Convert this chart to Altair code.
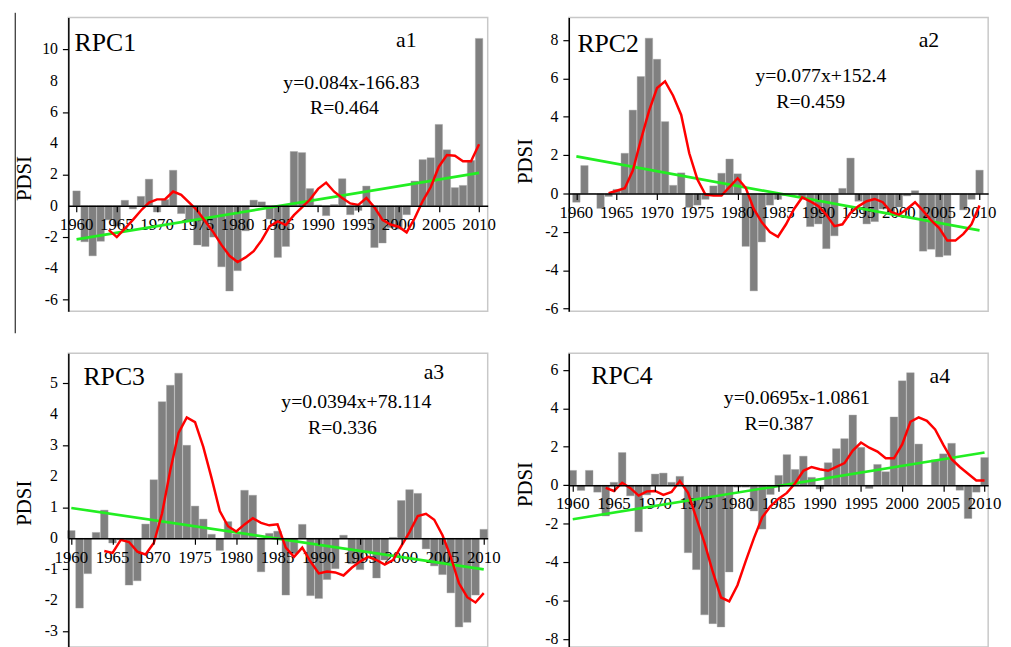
import altair as alt
import pandas as pd

FONT = "Liberation Serif"

years = list(range(1960, 2011))
ma_years = list(range(1964, 2011))
trend_years = [1960, 2010]
x_ticks = [1960, 1965, 1970, 1975, 1980, 1985, 1990, 1995, 2000, 2005, 2010]

rpc1 = [0.95, -2.3, -3.2, -2.27, -0.9, -1.3, 0.35, -0.2, 0.6, 1.7,
        -0.4, 0.4, 2.27, -0.5, -1.0, -2.5, -2.6, -2.0, -3.9, -5.45,
        -4.15, -1.6, 0.36, 0.25, -0.85, -3.3, -2.6, 3.47, 3.4, 1.1,
        0.05, -0.63, 0.08, 1.73, -0.57, -0.3, 1.26, -2.67, -2.38, -1.4,
        -1.5, -0.57, 1.58, 2.95, 3.07, 5.2, 3.58, 1.16, 1.3, 2.9, 10.7]
rpc2 = [-0.45, 1.46, 0.0, -0.77, -0.15, 0.22, 2.1, 4.35, 6.1, 8.1,
        7.0, 3.75, 0.43, 1.08, -0.72, -0.6, -0.3, 0.4, 1.06, 1.8,
        1.03, -2.75, -5.07, -2.52, -0.6, -0.3, -0.1, 0.0, -0.2, -1.72,
        -1.58, -2.87, -2.2, 0.27, 1.85, -0.4, -1.58, -1.46, -0.8, -1.0,
        -0.7, -0.12, 0.15, -3.0, -2.9, -3.3, -3.22, -0.05, -0.85, -0.3, 1.22]
rpc3 = [0.25, -2.25, -1.14, 0.19, 0.91, -0.15, -0.05, -1.51, -1.37, 0.46,
        1.89, 4.41, 4.94, 5.33, 3.0, 1.04, 0.62, 0.13, -0.39, 0.54,
        0.14, 1.55, 1.39, -1.08, 0.16, 0.23, -1.83, -0.5, 0.45, -1.85,
        -1.94, -1.33, -0.98, 0.1, -0.82, -1.01, -0.45, -1.28, -0.7, 0.03,
        1.22, 1.57, 1.45, -0.34, -0.89, -1.17, -1.76, -2.86, -2.71, -1.83, 0.29]
rpc4 = [0.77, -0.27, 0.77, -0.36, -1.6, 0.15, 1.7, -0.55, -2.42, -0.5,
        0.58, 0.63, 0.15, 0.46, -3.51, -4.39, -6.74, -7.2, -7.37, -4.51,
        -0.1, -0.1, -1.34, -2.28, -0.48, 0.51, 1.59, 0.82, 1.51, 0.41,
        -0.2, 1.17, 1.9, 2.42, 3.65, 1.97, -0.17, 1.08, 0.7, 3.55,
        5.43, 5.85, 2.14, -0.03, 1.32, 1.63, 2.18, -0.26, -1.73, -0.36, 1.44]

red1 = [-1.54, -2.0, -1.46, -0.9, -0.3, 0.2, 0.41, 0.42, 0.91, 0.7,
        0.2, -0.3, -1.0, -1.7, -2.5, -3.2, -3.6, -3.3, -2.9, -2.2,
        -1.3, -1.0, -1.23, -0.6, -0.1, 0.4, 1.08, 1.48, 0.9, 0.5,
        0.15, 0.06, 0.5, -0.1, -0.9, -1.2, -1.34, -1.7, -0.8, 0.3,
        1.2, 2.5, 3.25, 3.2, 2.85, 2.85, 3.93]
red2 = [0.02, 0.15, 0.28, 1.2, 2.8, 4.3, 5.5, 5.85, 5.1, 4.1,
        2.1, 0.75, -0.05, -0.1, -0.1, 0.35, 0.8, 0.3, -0.8, -1.5,
        -2.0, -2.25, -1.6, -0.8, -0.2, -0.4, -0.65, -1.1, -1.7, -1.6,
        -1.0, -0.65, -0.4, -0.28, -0.45, -0.95, -1.1, -0.8, -0.45, -0.9,
        -1.4, -1.8, -2.45, -2.45, -2.1, -1.6, -0.62]
red3 = [-0.41, -0.47, -0.05, -0.12, -0.43, -0.52, -0.15, 0.8, 2.2, 3.4,
        3.9, 3.75, 2.95, 1.95, 0.88, 0.39, 0.22, 0.45, 0.65, 0.5,
        0.42, 0.45, -0.3, -0.6, -0.3, -0.75, -1.13, -1.07, -1.1, -1.2,
        -0.95, -0.75, -0.6, -0.7, -0.85, -0.7, -0.25, 0.2, 0.72, 0.79,
        0.6, 0.1, -0.6, -1.45, -1.9, -2.07, -1.77]
red4 = [-0.14, -0.3, 0.13, -0.15, -0.54, -0.32, -0.3, -0.5, -0.35, 0.22,
        -0.4, -1.7, -3.0, -4.5, -5.84, -6.04, -5.2, -3.95, -2.75, -1.67,
        -1.1, -0.7, -0.4, 0.1, 0.75, 0.95, 0.83, 0.75, 0.95, 1.15,
        1.8, 2.22, 1.95, 1.75, 1.4, 1.4, 2.12, 3.3, 3.53, 3.35,
        2.9, 2.1, 1.35, 0.95, 0.6, 0.25, 0.25]

trend1 = [-2.15, 2.1]
trend2 = [1.94, -1.92]
trend3 = [0.98, -1.0]
trend4 = [-1.77, 1.7]

names = ["RPC1", "RPC2", "RPC3", "RPC4"]
tags = ["a1", "a2", "a3", "a4"]
equations = ["y=0.084x-166.83", "y=0.077x+152.4", "y=0.0394x+78.114", "y=0.0695x-1.0861"]
r_texts = ["R=0.464", "R=0.459", "R=0.336", "R=0.387"]
y_title = "PDSI"
y_ticks = [[-6, -4, -2, 0, 2, 4, 6, 8, 10],
           [-6, -4, -2, 0, 2, 4, 6, 8],
           [-3, -2, -1, 0, 1, 2, 3, 4, 5],
           [-8, -6, -4, -2, 0, 2, 4, 6]]

W, H = 424, 297

# layout / style settings per panel
x_domains = [[1958.98, 2011.07], [1959.06, 2011.07], [1959.64, 2010.48], [1959.52, 2010.44]]
y_domains = [[-6.74, 12.04], [-6.13, 9.18], [-3.51, 5.97], [-8.42, 6.86]]
title_ys = [162.8, 145.6, 151.5, 132.7]
# (x, y) of: name, tag, equation, R
text_pos = [
    [(6.3, 34.0), (331.3, 30.0), (217.3, 72.3), (244.3, 98.0)],
    [(8.7, 35.3), (353.7, 29.5), (188.7, 65.5), (209.7, 91.3)],
    [(15.3, 31.7), (359.3, 25.7), (215.3, 55.7), (242.3, 81.7)],
    [(22.7, 30.7), (364.7, 29.7), (156.7, 51.7), (177.7, 77.7)],
]


def label_mark(label, size, pos, angle=0, align="left"):
    return alt.Chart(pd.DataFrame({"label": [label]})).mark_text(
        font=FONT, fontSize=size, align=align, baseline="alphabetic", color="black",
        angle=angle
    ).encode(text="label:N", x=alt.value(pos[0]), y=alt.value(pos[1]))


def make_panel(i, vals, red, trend, with_rule=False):
    xdom, ydom = x_domains[i], y_domains[i]
    xs = alt.Scale(domain=xdom, nice=False, zero=False)
    ys = alt.Scale(domain=ydom, nice=False, zero=False)
    zero_y = H * ydom[1] / (ydom[1] - ydom[0])
    off = -(H - zero_y)
    xaxis = alt.Axis(values=x_ticks, offset=off, tickSize=6, tickWidth=1.2,
                     tickColor="black", domainColor="black", domainWidth=1.5,
                     labels=False, grid=False, title=None, zindex=1)
    yaxis = alt.Axis(values=y_ticks[i], tickSize=6, tickWidth=1.2,
                     tickColor="black", domainColor="black", domainWidth=1.5,
                     labels=False, grid=False, title=None, zindex=1)

    bar_df = pd.DataFrame({"year": years, "v": vals})
    bars = alt.Chart(bar_df).transform_calculate(
        x1="datum.year - 0.46", x2="datum.year + 0.46"
    ).mark_bar(color="#808080", stroke="#a0a0a0", strokeWidth=0.4).encode(
        x=alt.X("x1:Q", scale=xs, axis=xaxis),
        x2="x2:Q",
        y=alt.Y("v:Q", scale=ys, axis=yaxis),
        y2=alt.datum(0),
    )
    # year labels along the zero line
    xlab = alt.Chart(pd.DataFrame({"year": x_ticks, "lab": [str(t) for t in x_ticks]})).mark_text(
        font=FONT, fontSize=17, align="center", baseline="alphabetic", dy=24.5, color="black"
    ).encode(x=alt.X("year:Q", scale=xs, axis=xaxis), y=alt.datum(0), text="lab:N")
    # value labels left of the axis
    ylab = alt.Chart(pd.DataFrame({"v": y_ticks[i], "lab": [str(t) for t in y_ticks[i]]})).mark_text(
        font=FONT, fontSize=16, align="right", baseline="middle", color="black"
    ).encode(x=alt.value(-10.5), y=alt.Y("v:Q", scale=ys, axis=yaxis), text="lab:N")

    green = alt.Chart(pd.DataFrame({"year": trend_years, "v": trend})).mark_line(
        color="#22ee22", strokeWidth=2.7
    ).encode(x=alt.X("year:Q", scale=xs, axis=xaxis), y=alt.Y("v:Q", scale=ys, axis=yaxis))
    redl = alt.Chart(pd.DataFrame({"year": ma_years, "v": red})).mark_line(
        color="#ff0000", strokeWidth=2.5
    ).encode(x=alt.X("year:Q", scale=xs, axis=xaxis), y=alt.Y("v:Q", scale=ys, axis=yaxis))

    tp = text_pos[i]
    layers = [bars, xlab, ylab, green, redl,
              label_mark(y_title, 21, (-37.7, title_ys[i]), angle=270, align="center"),
              label_mark(names[i], 26, tp[0]),
              label_mark(tags[i], 22, tp[1]),
              label_mark(equations[i], 20, tp[2]),
              label_mark(r_texts[i], 20, tp[3])]
    if with_rule:
        layers.append(
            alt.Chart(pd.DataFrame({"d": [0]})).mark_rule(color="black", strokeWidth=1).encode(
                x=alt.value(-53.7), y=alt.value(-4.7), y2=alt.value(319.3)
            )
        )
    return alt.layer(*layers).properties(width=W, height=H)


p1 = make_panel(0, rpc1, red1, trend1, with_rule=True)
p2 = make_panel(1, rpc2, red2, trend2)
p3 = make_panel(2, rpc3, red3, trend3)
p4 = make_panel(3, rpc4, red4, trend4)

chart = alt.concat(
    p1, p2, p3, p4, columns=2,
    spacing={"row": 42.6, "column": 82},
    bounds="flush",
    padding={"left": 5, "top": 0, "right": 0, "bottom": 0},
    background="white",
).configure_view(
    stroke="#c8c8c8", strokeWidth=1.5
)

chart.save("out.html", embed_options={"renderer": "svg", "actions": False})
